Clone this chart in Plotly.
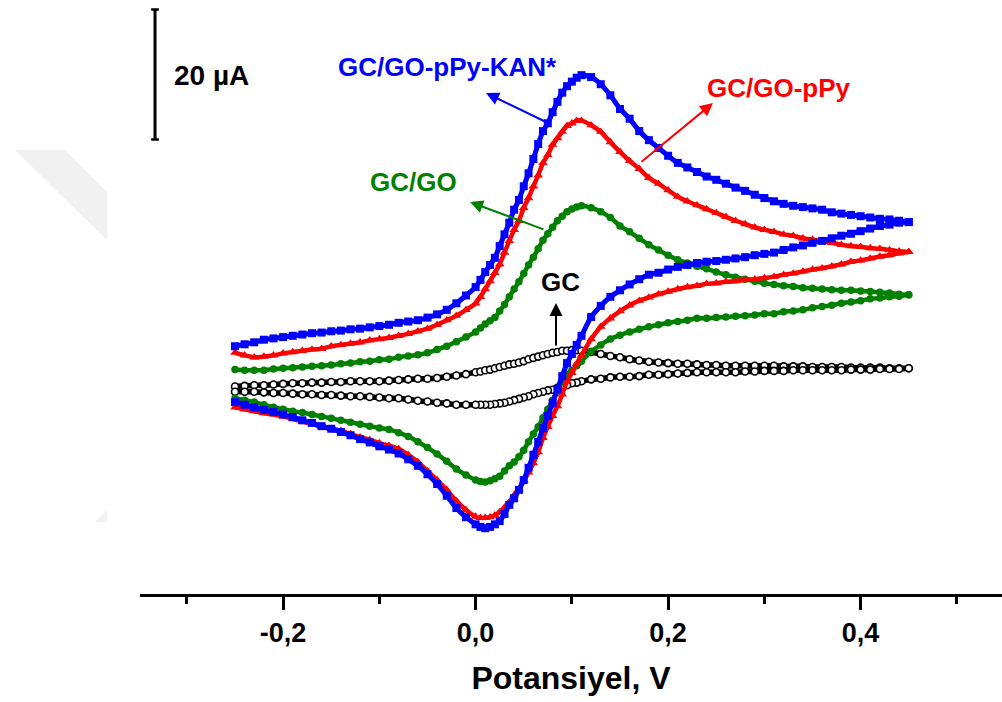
import plotly.graph_objects as go

# Potential grid (V)
POTENTIAL_V = [-0.25, -0.24, -0.23, -0.22, -0.21, -0.20, -0.19, -0.18, -0.17, -0.16,
               -0.15, -0.14, -0.13, -0.12, -0.11, -0.10, -0.09, -0.08, -0.07, -0.06,
               -0.05, -0.04, -0.03, -0.02, -0.01,
               0.000, 0.005, 0.010, 0.015, 0.020, 0.025, 0.030, 0.035, 0.040, 0.045,
               0.050, 0.055, 0.060, 0.065, 0.070, 0.075, 0.080, 0.085, 0.090, 0.095,
               0.100, 0.105, 0.110,
               0.12, 0.13, 0.14, 0.15, 0.16, 0.17, 0.18, 0.19, 0.20, 0.21, 0.22, 0.23,
               0.24, 0.25, 0.26, 0.27, 0.28, 0.29, 0.30, 0.31, 0.32, 0.33, 0.34, 0.35,
               0.36, 0.37, 0.38, 0.39, 0.40, 0.41, 0.42, 0.43, 0.44, 0.45]

# Currents (uA, arbitrary offset) - anodic (forward) and cathodic (reverse) branches
KAN_FWD = [5.2, 5.5, 5.8, 6.2, 6.4, 6.6, 6.8, 7.0, 7.2, 7.3, 7.5, 7.6, 7.8, 7.9, 8.1, 8.3, 8.5, 8.8, 9.0, 9.2,
           9.6, 10.1, 10.8, 11.8, 13.0,
           14.3, 15.4, 16.6, 17.7, 18.8, 20.6, 22.4, 24.2, 26.2, 27.7, 29.8, 31.8, 34.0, 36.3, 38.3, 39.5,
           41.2, 42.8, 44.2, 45.2, 45.9, 46.5, 46.9,
           46.6, 45.5, 43.8, 41.7, 40.2, 38.3, 36.9, 35.7, 34.5, 33.4, 32.7, 32.0, 31.3, 30.8, 30.2, 29.6,
           29.1, 28.5, 28.0, 27.5, 27.1, 26.8, 26.6, 26.4, 26.2, 25.8, 25.6, 25.4, 25.2, 25.0, 24.8, 24.7,
           24.5, 24.3]
KAN_REV = [-3.4, -3.8, -4.2, -4.6, -4.9, -5.3, -5.7, -6.2, -6.6, -7.1, -7.5, -8.0, -8.5, -9.1, -9.6, -10.2,
           -10.7, -11.3, -12.2, -13.2, -14.5, -16.0, -17.8, -19.7, -21.1,
           -22.2, -22.6, -22.8, -22.6, -22.2, -21.7, -20.6, -19.2, -18.2, -16.9, -15.4, -13.5, -11.5, -9.5,
           -7.4, -5.5, -3.5, -1.4, 0.6, 2.6, 4.0, 5.4, 6.8,
           9.7, 11.4, 12.8, 13.8, 14.7, 15.5, 16.2, 16.5, 17.0, 17.4, 17.7, 18.0, 18.2, 18.3, 18.5, 18.7,
           18.9, 19.2, 19.4, 19.6, 20.0, 20.4, 20.7, 21.1, 21.4, 21.8, 22.2, 22.5, 22.9, 23.3, 23.7, 23.9,
           24.2, 24.3]

PPY_FWD = [4.2, 3.8, 3.5, 3.6, 3.8, 4.1, 4.3, 4.5, 4.7, 4.8, 5.2, 5.4, 5.6, 5.8, 6.1, 6.3, 6.5, 6.8, 7.1, 7.5,
           7.9, 8.5, 9.2, 9.9, 10.8,
           11.8, 12.8, 14.0, 15.2, 16.5, 17.8, 19.6, 21.4, 23.1, 24.5, 26.5, 28.0, 29.8, 31.5, 33.4, 34.6,
           36.2, 37.2, 38.2, 39.1, 39.5, 39.9, 39.9,
           39.2, 38.2, 36.6, 35.1, 33.7, 32.5, 31.1, 30.2, 29.2, 28.2, 27.5, 26.9, 26.3, 25.7, 25.1, 24.5,
           24.0, 23.5, 23.1, 22.8, 22.4, 22.2, 21.8, 21.6, 21.4, 21.1, 20.8, 20.6, 20.5, 20.3, 20.2, 20.0,
           19.8, 19.7]
PPY_REV = [-4.2, -4.5, -4.8, -5.1, -5.3, -5.6, -6.0, -6.4, -6.8, -7.2, -7.5, -7.8, -8.3, -8.8, -9.2, -9.7,
           -10.1, -10.6, -11.5, -12.6, -14.0, -15.4, -16.9, -18.6, -20.0,
           -21.0, -21.2, -21.2, -21.1, -20.8, -20.3, -19.6, -18.8, -17.7, -16.8, -15.5, -14.2, -12.8, -11.1,
           -8.9, -7.2, -5.5, -4.0, -2.2, -0.2, 1.1, 2.5, 3.8,
           6.3, 8.2, 9.5, 10.6, 11.5, 12.2, 12.7, 13.2, 13.6, 14.0, 14.3, 14.5, 14.8, 14.9, 15.1, 15.2,
           15.4, 15.5, 15.7, 15.9, 16.2, 16.4, 16.7, 17.0, 17.2, 17.5, 17.8, 18.2, 18.4, 18.7, 19.0, 19.2,
           19.5, 19.7]

GO_FWD = [1.6, 1.5, 1.5, 1.5, 1.7, 1.8, 1.9, 2.0, 2.1, 2.2, 2.3, 2.5, 2.6, 2.8, 2.9, 3.1, 3.2, 3.5, 3.7, 3.9,
          4.2, 4.7, 5.2, 5.9, 6.6,
          7.4, 8.0, 8.6, 9.1, 9.6, 10.6, 11.6, 12.8, 14.0, 15.1, 16.4, 17.7, 18.9, 20.2, 21.5, 22.5,
          23.5, 24.5, 25.2, 25.9, 26.3, 26.6, 26.8,
          26.5, 25.9, 25.0, 23.7, 22.8, 21.8, 20.8, 20.0, 19.2, 18.5, 18.0, 17.5, 17.1, 16.6, 16.2, 15.8,
          15.5, 15.2, 14.9, 14.7, 14.5, 14.4, 14.2, 14.1, 14.0, 13.9, 13.8, 13.8, 13.7, 13.6, 13.5, 13.4,
          13.2, 13.1]
GO_REV = [-2.8, -3.1, -3.4, -3.8, -4.2, -4.5, -4.8, -5.0, -5.3, -5.6, -5.9, -6.2, -6.5, -6.8, -7.1, -7.4,
          -7.6, -8.1, -8.7, -9.5, -10.4, -11.4, -12.5, -13.7, -14.6,
          -15.4, -15.6, -15.7, -15.5, -15.2, -14.8, -14.0, -13.2, -12.6, -11.8, -10.8, -9.5, -8.3, -7.2,
          -5.8, -4.5, -3.1, -1.7, -0.3, 0.9, 1.5, 2.2, 2.9,
          4.4, 5.4, 6.3, 6.9, 7.4, 7.8, 8.2, 8.5, 8.8, 9.0, 9.2, 9.5, 9.5, 9.6, 9.7, 9.8,
          9.9, 10.0, 10.2, 10.2, 10.5, 10.6, 10.8, 11.1, 11.3, 11.5, 11.8, 12.0, 12.2, 12.5, 12.6, 12.8,
          12.9, 13.1]

GC_FWD = [-1.0, -0.9, -0.8, -0.8, -0.7, -0.6, -0.5, -0.5, -0.4, -0.4, -0.3, -0.3, -0.2, -0.2, -0.2, -0.2,
          -0.1, 0.0, 0.1, 0.2, 0.2, 0.3, 0.5, 0.7, 0.9,
          1.2, 1.3, 1.5, 1.6, 1.8, 2.0, 2.2, 2.4, 2.5, 2.7, 2.9, 3.2, 3.4, 3.6, 3.8, 4.0,
          4.2, 4.3, 4.5, 4.5, 4.6, 4.6, 4.5,
          4.3, 4.0, 3.7, 3.5, 3.2, 3.0, 2.8, 2.7, 2.6, 2.5, 2.5, 2.4, 2.3, 2.3, 2.2, 2.2,
          2.2, 2.2, 2.2, 2.2, 2.1, 2.1, 2.1, 2.0, 2.0, 2.0, 2.0, 1.9, 1.9, 1.9, 1.9, 1.8,
          1.8, 1.8]
GC_REV = [-1.8, -1.8, -1.8, -1.9, -2.0, -2.0, -2.1, -2.2, -2.2, -2.3, -2.3, -2.4, -2.5, -2.5, -2.6, -2.7,
          -2.8, -2.8, -3.0, -3.2, -3.3, -3.5, -3.6, -3.8, -3.8,
          -3.8, -3.8, -3.8, -3.8, -3.7, -3.6, -3.5, -3.3, -3.1, -2.9, -2.7, -2.5, -2.2, -2.0,
          -1.8, -1.6, -1.5, -1.2, -1.0, -0.8, -0.5, -0.4, -0.2,
          0.1, 0.2, 0.4, 0.5, 0.5, 0.6, 0.8, 0.8, 0.9, 1.0, 1.1, 1.2, 1.2, 1.2, 1.2, 1.2,
          1.3, 1.3, 1.4, 1.4, 1.4, 1.5, 1.5, 1.5, 1.5, 1.5, 1.5, 1.6, 1.6, 1.6, 1.7, 1.7,
          1.7, 1.8]

TICK_VALUES = [-0.2, 0.0, 0.2, 0.4]
TICK_LABELS = ["-0,2", "0,0", "0,2", "0,4"]
MINOR_TICK_VALUES = [-0.3, -0.1, 0.1, 0.3, 0.5]
SCALE_BAR_UA = 20
SCALE_BAR_TOP_UA = 57.0

FONT = "Liberation Sans, Arial, sans-serif"

for arr in (KAN_FWD, KAN_REV, PPY_FWD, PPY_REV, GO_FWD, GO_REV, GC_FWD, GC_REV):
    assert len(arr) == len(POTENTIAL_V)


def cycle(fwd, rev):
    x = list(POTENTIAL_V) + list(POTENTIAL_V[::-1])
    y = list(fwd) + list(rev[::-1])
    return x, y


fig = go.Figure()

series = [
    ("GC", GC_FWD, GC_REV, "black", 5.5,
     dict(symbol="circle", size=7, color="white", line=dict(color="black", width=1.6))),
    ("GC/GO", GO_FWD, GO_REV, "#008000", 4.5,
     dict(symbol="circle", size=7.5, color="#008000", line=dict(width=0))),
    ("GC/GO-pPy", PPY_FWD, PPY_REV, "#FF0000", 4.5,
     dict(symbol="triangle-up", size=8.5, color="#FF0000", line=dict(width=0))),
    ("GC/GO-pPy-KAN*", KAN_FWD, KAN_REV, "#0000FF", 5,
     dict(symbol="square", size=8, color="#0000FF", line=dict(width=0))),
]
for name, f, r, col, lw, mk in series:
    x, y = cycle(f, r)
    fig.add_trace(go.Scatter(x=x, y=y, mode="lines+markers", name=name, marker=mk,
                             line=dict(color=col, width=lw, shape="spline", smoothing=0.6),
                             showlegend=False))

# scale bar (20 uA)
sb_x = -0.3331
sb_top = SCALE_BAR_TOP_UA
sb_bot = SCALE_BAR_TOP_UA - SCALE_BAR_UA
shapes = [
    dict(type="line", xref="x", yref="y", x0=sb_x, x1=sb_x, y0=sb_bot, y1=sb_top,
         line=dict(color="black", width=3)),
    dict(type="line", xref="x", yref="y", x0=sb_x - 0.004, x1=sb_x + 0.004, y0=sb_top, y1=sb_top,
         line=dict(color="black", width=2.5)),
    dict(type="line", xref="x", yref="y", x0=sb_x - 0.004, x1=sb_x + 0.004, y0=sb_bot, y1=sb_bot,
         line=dict(color="black", width=2.5)),
    # faint watermark band (paper coords)
    dict(type="path", xref="paper", yref="paper",
         path="M -0.1450,0.7475 L -0.0870,0.7475 L -0.0383,0.6768 L -0.0383,0.5960 Z",
         fillcolor="#f1f1f1", line=dict(width=0), layer="below"),
    dict(type="path", xref="paper", yref="paper",
         path="M -0.0522,0.1212 L -0.0383,0.1414 L -0.0383,0.1212 Z",
         fillcolor="#f1f1f1", line=dict(width=0), layer="below"),
]

ann = []
# labels
labels = [
    ("GC/GO-pPy-KAN*", -0.0292, 48.15, "#0000FF", "center"),
    ("GC/GO", -0.0645, 30.46, "#008000", "center"),
    ("GC/GO-pPy", 0.3152, 44.92, "#FF0000", "center"),
    ("GC", 0.0887, 15.08, "black", "center"),
    ("20 µA", -0.3154, 46.92, "black", "left"),
]
for t, x, y, c, xa in labels:
    ann.append(dict(x=x, y=y, xref="x", yref="y", text=t, showarrow=False,
                    xanchor=xa, yanchor="middle",
                    font=dict(family=FONT, size=26 if t != "20 µA" else 28, color=c, weight="bold")))
# arrows (head, tail)
arrows = [
    (0.0108, 44.15, 0.0752, 39.54, "#0000FF"),
    (-0.0058, 27.38, 0.0721, 23.08, "#008000"),
    (0.2466, 42.62, 0.1708, 33.38, "#FF0000"),
    (0.0835, 11.85, 0.0835, 5.08, "black"),
]
for hx, hy, tx, ty, c in arrows:
    ann.append(dict(x=hx, y=hy, ax=tx, ay=ty, xref="x", yref="y", axref="x", ayref="y",
                    text="", showarrow=True, arrowhead=2, arrowsize=1.3, arrowwidth=2,
                    arrowcolor=c, standoff=0, startstandoff=0))

fig.update_layout(
    width=1002, height=702,
    margin=dict(l=140, r=0, t=0, b=108, autoexpand=False),
    paper_bgcolor="white", plot_bgcolor="white",
    shapes=shapes, annotations=ann,
    font=dict(family=FONT, color="black"),
)
fig.update_xaxes(
    range=[-0.3487, 0.5469], showline=True, linecolor="black", linewidth=3,
    ticks="outside", ticklen=13, tickwidth=2.5, tickcolor="black",
    tickmode="array", tickvals=TICK_VALUES, ticktext=TICK_LABELS,
    tickfont=dict(family=FONT, size=27, color="black", weight="bold"),
    minor=dict(tickmode="array", tickvals=MINOR_TICK_VALUES, ticks="outside", ticklen=7,
               tickwidth=2.5, tickcolor="black", showgrid=False),
    showgrid=False, zeroline=False, automargin=False,
    title=dict(text="Potansiyel, V", standoff=20,
               font=dict(family=FONT, size=32, color="black", weight="bold")),
)
fig.update_yaxes(range=[-32.92, 58.46], visible=False, showgrid=False, zeroline=False)

fig.write_html("out.html", config={"displayModeBar": False},
               post_script="document.body.style.margin='0';")
